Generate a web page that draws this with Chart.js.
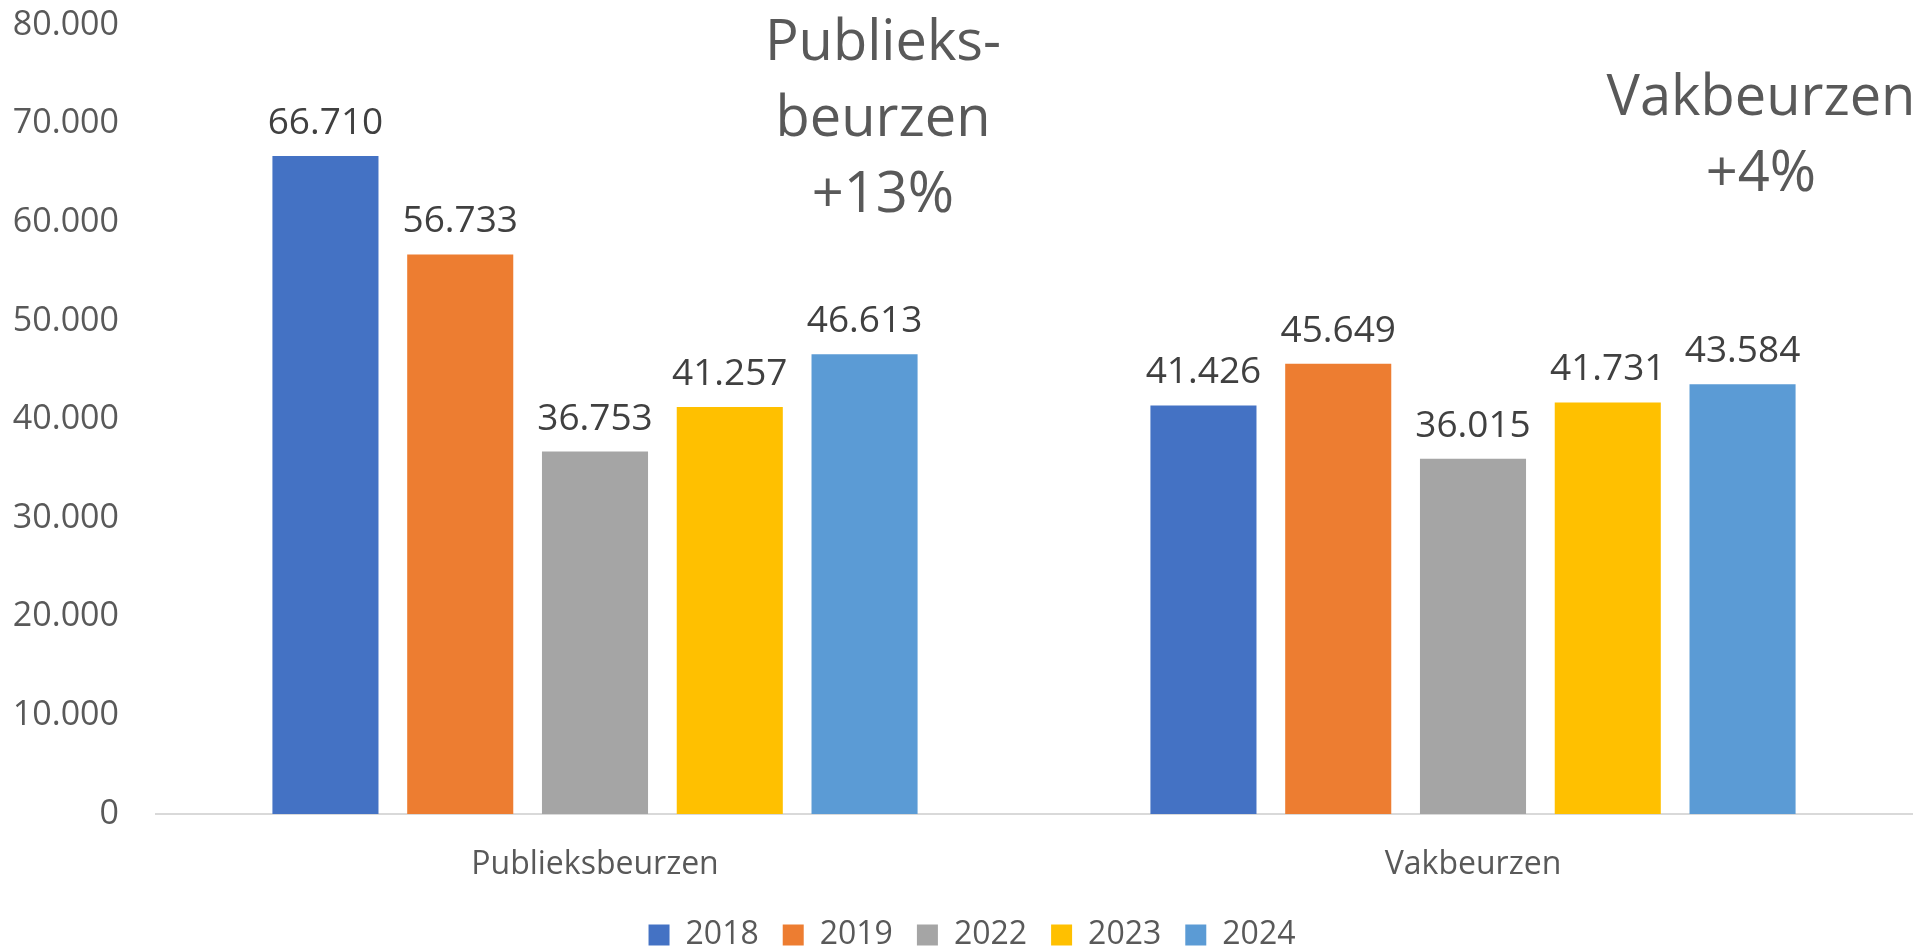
<!DOCTYPE html>
<html>
<head>
<meta charset="utf-8">
<title>Bezoekers beurzen</title>
<script src="https://cdn.jsdelivr.net/npm/chart.js@4/dist/chart.umd.min.js"></script>
<style>
  html, body { margin: 0; padding: 0; background: #ffffff; }
  #chart { display: block; }
</style>
</head>
<body>
<canvas id="chart" width="1921" height="947"></canvas>
<script>
const categories = ['Publieksbeurzen', 'Vakbeurzen'];
const years = ['2018', '2019', '2022', '2023', '2024'];
const values2018 = [66710, 41426];
const values2019 = [56733, 45649];
const values2022 = [36753, 36015];
const values2023 = [41257, 41731];
const values2024 = [46613, 43584];
const yearColors = ['#4472C4', '#ED7D31', '#A5A5A5', '#FFC000', '#5B9BD5'];
const yTicks = [0, 10000, 20000, 30000, 40000, 50000, 60000, 70000, 80000];
const growthNotes = [
    ['Publieks-', 'beurzen', '+13%'],
    ['Vakbeurzen', '+4%']
];

const seriesValues = [values2018, values2019, values2022, values2023, values2024];
const FONT = '"Open Sans", "DejaVu Sans", sans-serif';

function formatNumber(n) {
    return String(n).replace(/\B(?=(\d{3})+(?!\d))/g, '.');
}

// value labels above each bar
const barLabels = {
    id: 'barLabels',
    afterDatasetsDraw(chart) {
        const ctx = chart.ctx;
        ctx.save();
        ctx.font = '37px ' + FONT;
        ctx.fillStyle = '#404040';
        ctx.textAlign = 'center';
        ctx.textBaseline = 'alphabetic';
        chart.data.datasets.forEach((ds, i) => {
            chart.getDatasetMeta(i).data.forEach((bar, j) => {
                ctx.fillText(formatNumber(ds.data[j]), bar.x, bar.y - 22);
            });
        });
        ctx.restore();
    }
};

// big growth notes to the right of each group
const growthText = {
    id: 'growthText',
    afterDraw(chart) {
        const ctx = chart.ctx;
        const xScale = chart.scales.x;
        const area = chart.chartArea;
        const catWidth = (area.right - area.left) / categories.length;
        const firstBaseline = [35, 90];
        ctx.save();
        ctx.font = '56px ' + FONT;
        ctx.fillStyle = '#595959';
        ctx.textAlign = 'center';
        ctx.textBaseline = 'alphabetic';
        growthNotes.forEach((lines, i) => {
            const cx = xScale.getPixelForValue(i) + catWidth * 0.328;
            lines.forEach((line, k) => {
                ctx.fillText(line, cx, area.top + firstBaseline[i] + k * 76);
            });
        });
        ctx.restore();
    }
};

// nudge the legend a little lower and right, like the original
const legendShift = {
    id: 'legendShift',
    afterLayout(chart) {
        chart.legend.top += 14;
        chart.legend.bottom += 14;
        chart.legend.left += 16;
        chart.legend.right += 16;
    }
};

const ctx = document.getElementById('chart').getContext('2d');
const chart = new Chart(ctx, {
    type: 'bar',
    data: {
        labels: categories,
        datasets: years.map((year, i) => ({
            label: year,
            data: seriesValues[i],
            backgroundColor: yearColors[i],
            borderWidth: 0,
            categoryPercentage: 0.7675,
            barPercentage: 0.787
        }))
    },
    options: {
        responsive: false,
        animation: false,
        layout: {
            padding: { top: 0, right: 9, left: 0, bottom: 0 }
        },
        scales: {
            y: {
                min: 0,
                max: 80000,
                afterBuildTicks: scale => {
                    scale.ticks = yTicks.map(v => ({ value: v }));
                },
                afterFit: scale => {
                    scale.width = 156;
                    scale.paddingTop = 25;
                    scale.paddingBottom = 0;
                },
                ticks: {
                    color: '#595959',
                    font: { family: FONT, size: 34 },
                    padding: 29,
                    callback: v => formatNumber(v)
                },
                grid: { display: false },
                border: { display: false }
            },
            x: {
                afterFit: scale => { scale.height = 67; },
                ticks: {
                    color: '#595959',
                    font: { family: FONT, size: 32 },
                    padding: 24
                },
                grid: { display: false },
                border: { display: true, color: '#D9D9D9', width: 2 }
            }
        },
        plugins: {
            legend: {
                position: 'bottom',
                labels: {
                    boxWidth: 21,
                    boxHeight: 21,
                    padding: 24,
                    color: '#595959',
                    font: { family: FONT, size: 32 }
                }
            },
            tooltip: { enabled: false }
        }
    },
    plugins: [barLabels, growthText, legendShift]
});
</script>
</body>
</html>
